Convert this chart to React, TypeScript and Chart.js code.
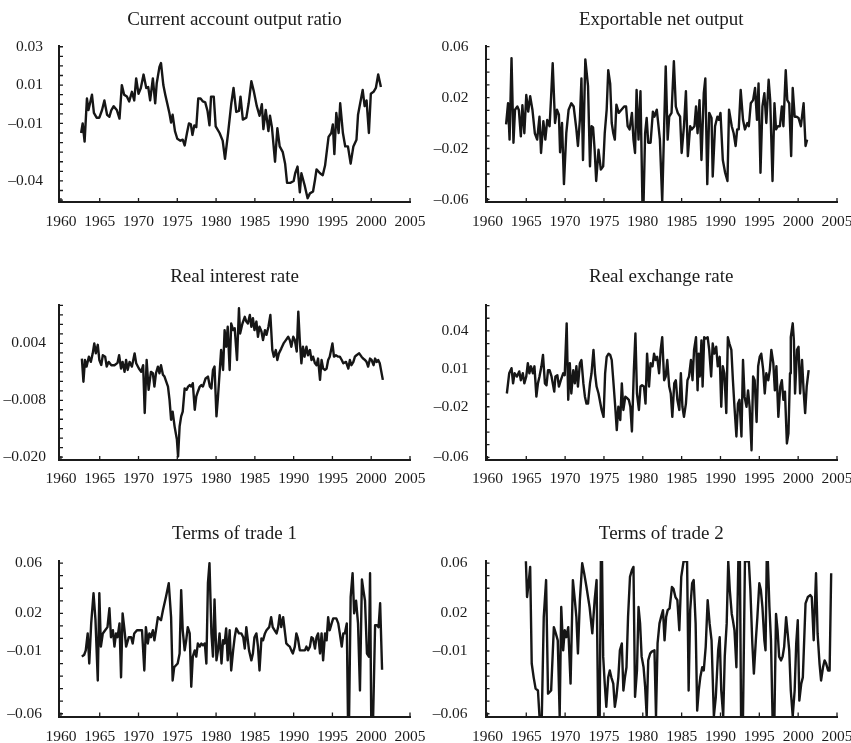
import React, { useEffect, useRef } from "react";
import { Chart, registerables } from "chart.js";

Chart.register(...registerables);

const FONT = '"Liberation Serif", "Times New Roman", Times, serif';
const INK = "#1b1b1b";
const LINE_INK = "#161616";

// x axis (years)
const xTickYears = [1960, 1965, 1970, 1975, 1980, 1985, 1990, 1995, 2000, 2005];

// ---- Current account output ratio ----
const caTicks = [0.03, 0.01, -0.01, -0.04];
const caTickLabels = ["0.03", "0.01", "–0.01", "–0.04"];
const currentAccount: [number, number][] = [
  [1962.6,-0.015],[1962.8,-0.010],[1963.05,-0.0195],[1963.35,0.003],[1963.55,-0.003],[1964.0,0.005],[1964.25,-0.0045],[1964.6,-0.007],[1964.95,-0.007],[1965.3,-0.003],[1965.6,0.002],[1965.95,-0.0055],[1966.25,-0.0065],[1966.5,-0.003],[1966.8,-0.001],[1967.2,-0.003],[1967.55,-0.0075],[1967.85,0.010],[1968.15,0.005],[1968.5,0.004],[1968.8,0.0015],[1969.15,0.0065],[1969.45,0.002],[1969.7,0.0135],[1970.0,0.0055],[1970.3,0.0085],[1970.65,0.0155],[1971.0,0.0085],[1971.25,0.009],[1971.5,0.002],[1971.85,0.0135],[1972.15,0.0005],[1972.35,0.011],[1972.7,0.0195],[1972.9,0.0215],[1973.2,0.010],[1973.45,0.005],[1973.7,0.0005],[1974.0,-0.005],[1974.2,-0.0095],[1974.4,-0.0055],[1974.7,-0.014],[1975.0,-0.018],[1975.4,-0.019],[1975.7,-0.0185],[1975.95,-0.0215],[1976.25,-0.015],[1976.5,-0.010],[1976.75,-0.0105],[1976.95,-0.016],[1977.2,-0.011],[1977.45,-0.012],[1977.7,0.003],[1978.0,0.003],[1978.3,0.0015],[1978.6,0.001],[1978.9,-0.0035],[1979.15,-0.011],[1979.35,0.004],[1979.7,0.004],[1979.95,-0.0115],[1980.45,-0.015],[1980.85,-0.019],[1981.15,-0.0285],[1981.55,-0.015],[1981.95,0.0],[1982.25,0.0085],[1982.6,-0.004],[1982.95,-0.0035],[1983.15,0.004],[1983.45,-0.008],[1983.9,-0.007],[1984.2,0.0005],[1984.55,0.012],[1984.85,0.007],[1985.25,-0.001],[1985.6,-0.006],[1985.9,0.0],[1986.1,-0.013],[1986.4,-0.003],[1986.75,-0.014],[1986.95,-0.006],[1987.2,-0.012],[1987.6,-0.030],[1987.9,-0.0125],[1988.2,-0.022],[1988.6,-0.025],[1988.9,-0.031],[1989.15,-0.041],[1989.6,-0.041],[1990.0,-0.040],[1990.2,-0.036],[1990.5,-0.0325],[1990.8,-0.046],[1991.0,-0.036],[1991.4,-0.042],[1991.8,-0.049],[1992.1,-0.0465],[1992.5,-0.0455],[1992.75,-0.0395],[1992.95,-0.034],[1993.4,-0.036],[1993.75,-0.037],[1994.05,-0.032],[1994.5,-0.017],[1994.85,-0.015],[1995.05,-0.0105],[1995.25,-0.026],[1995.5,-0.0045],[1995.8,-0.015],[1996.0,0.0005],[1996.35,-0.015],[1996.65,-0.022],[1997.0,-0.022],[1997.35,-0.031],[1997.7,-0.022],[1998.1,-0.0185],[1998.3,-0.0055],[1998.9,0.0075],[1999.15,-0.001],[1999.4,0.002],[1999.7,-0.015],[1999.95,0.0055],[2000.3,0.0065],[2000.6,0.0085],[2000.9,0.0155],[2001.25,0.009]
];

// ---- Exportable net output ----
const enoTicks = [0.06, 0.02, -0.02, -0.06];
const enoTickLabels = ["0.06", "0.02", "–0.02", "–0.06"];
const exportableNetOutput: [number, number][] = [
  [1962.4,-0.001],[1962.65,0.0155],[1962.85,-0.013],[1963.1,0.051],[1963.35,-0.0155],[1963.55,0.0105],[1963.85,0.013],[1964.05,0.010],[1964.3,-0.0105],[1964.5,0.014],[1964.75,-0.008],[1965.0,0.022],[1965.25,0.009],[1965.5,0.021],[1965.8,0.010],[1966.1,-0.008],[1966.4,-0.013],[1966.7,0.005],[1966.9,-0.0235],[1967.2,0.0015],[1967.45,-0.013],[1967.7,0.0025],[1968.0,-0.0025],[1968.2,0.021],[1968.4,0.047],[1968.7,0.0],[1968.95,0.0105],[1969.2,0.0065],[1969.35,-0.023],[1969.6,0.0],[1969.85,-0.048],[1970.15,-0.008],[1970.45,0.0105],[1970.8,0.0155],[1971.1,0.013],[1971.45,-0.005],[1971.65,-0.018],[1971.9,0.0025],[1972.1,0.035],[1972.3,-0.029],[1972.6,0.050],[1972.95,0.029],[1973.2,-0.034],[1973.4,-0.0025],[1973.6,-0.0035],[1973.8,-0.021],[1974.0,-0.0455],[1974.3,-0.021],[1974.6,-0.0365],[1974.9,-0.034],[1975.1,-0.008],[1975.35,0.0105],[1975.55,0.0415],[1975.8,0.031],[1976.0,0.0],[1976.2,-0.008],[1976.4,-0.013],[1976.6,0.0145],[1976.9,0.008],[1977.25,0.0105],[1977.6,0.013],[1977.85,0.013],[1978.05,-0.0025],[1978.3,-0.005],[1978.6,0.008],[1978.8,-0.013],[1979.0,-0.0235],[1979.2,0.026],[1979.45,-0.013],[1979.7,0.025],[1979.95,-0.062],[1980.1,-0.062],[1980.3,-0.008],[1980.5,0.004],[1980.7,-0.0155],[1981.0,-0.0155],[1981.3,0.009],[1981.5,0.005],[1981.8,0.0105],[1982.0,-0.001],[1982.2,-0.013],[1982.5,-0.062],[1982.75,-0.0025],[1982.95,0.0445],[1983.2,-0.013],[1983.4,0.005],[1983.7,0.008],[1984.0,0.0485],[1984.25,0.013],[1984.5,0.008],[1984.8,0.005],[1985.0,-0.0235],[1985.3,-0.0025],[1985.55,0.025],[1985.8,-0.026],[1986.1,-0.0025],[1986.3,-0.005],[1986.65,-0.0025],[1986.85,0.013],[1987.05,-0.008],[1987.3,0.018],[1987.55,-0.029],[1987.85,0.0235],[1988.05,0.035],[1988.3,-0.048],[1988.55,0.008],[1988.85,0.004],[1989.0,-0.042],[1989.3,-0.0025],[1989.6,0.005],[1989.8,0.0025],[1990.0,0.008],[1990.3,-0.029],[1990.6,-0.039],[1990.9,-0.0455],[1991.1,0.0105],[1991.45,-0.0025],[1991.7,-0.008],[1991.95,-0.018],[1992.15,-0.005],[1992.35,-0.005],[1992.6,0.026],[1992.9,0.0025],[1993.15,-0.005],[1993.45,0.0],[1993.65,-0.0025],[1993.9,0.0155],[1994.2,0.018],[1994.45,0.0275],[1994.7,0.0025],[1994.9,0.031],[1995.15,-0.039],[1995.4,0.013],[1995.65,0.0235],[1995.9,0.0],[1996.2,0.034],[1996.4,0.018],[1996.7,-0.0455],[1996.95,0.0155],[1997.15,-0.005],[1997.4,-0.0025],[1997.65,-0.0025],[1997.9,0.013],[1998.1,-0.0025],[1998.4,0.0415],[1998.6,0.018],[1998.85,0.0155],[1999.1,-0.026],[1999.3,0.0275],[1999.55,0.005],[1999.8,0.005],[2000.05,0.004],[2000.35,-0.0025],[2000.7,0.0155],[2000.95,-0.018],[2001.15,-0.013]
];

// ---- Real interest rate ----
const rirTicks = [0.004, -0.008, -0.02];
const rirTickLabels = ["0.004", "–0.008", "–0.020"];
const realInterestRate: [number, number][] = [
  [1962.7,0.0008],[1962.9,-0.0041],[1963.1,0.0005],[1963.3,-0.0009],[1963.6,0.0012],[1963.85,0.0001],[1964.1,0.0019],[1964.3,0.0040],[1964.5,0.0019],[1964.75,0.0037],[1964.95,0.0005],[1965.2,-0.00055],[1965.4,0.0015],[1965.7,0.0012],[1965.9,-0.0009],[1966.15,0.0001],[1966.5,-0.0006],[1966.9,-0.0006],[1967.3,-0.0001],[1967.5,0.0015],[1967.75,-0.0013],[1967.95,0.0001],[1968.2,-0.0020],[1968.4,0.0005],[1968.6,-0.0016],[1968.85,0.0001],[1969.15,-0.0009],[1969.5,0.0019],[1969.7,-0.0002],[1970.05,-0.0013],[1970.35,-0.0020],[1970.6,-0.0006],[1970.8,-0.0107],[1971.05,0.0005],[1971.3,-0.0058],[1971.6,-0.0020],[1971.85,-0.0023],[1972.05,-0.0051],[1972.25,-0.0023],[1972.5,-0.0009],[1972.7,-0.0023],[1972.9,-0.0006],[1973.15,-0.0026],[1973.35,-0.0030],[1973.8,-0.0051],[1974.0,-0.0079],[1974.2,-0.0121],[1974.4,-0.0104],[1974.65,-0.0135],[1974.95,-0.0163],[1975.1,-0.01985],[1975.3,-0.0135],[1975.5,-0.0114],[1975.7,-0.0104],[1975.95,-0.0055],[1976.2,-0.0058],[1976.4,-0.0051],[1976.6,-0.0048],[1976.8,-0.0051],[1977.0,-0.0044],[1977.25,-0.0100],[1977.45,-0.0072],[1977.65,-0.0062],[1977.9,-0.0051],[1978.1,-0.0048],[1978.3,-0.0051],[1978.65,-0.0034],[1978.95,-0.0030],[1979.2,-0.0051],[1979.4,-0.0055],[1979.6,-0.0016],[1979.8,-0.0009],[1980.05,-0.0114],[1980.25,-0.0072],[1980.45,-0.0023],[1980.65,0.0026],[1980.9,-0.0016],[1981.1,0.0068],[1981.3,0.0033],[1981.5,0.0075],[1981.75,-0.0016],[1981.95,0.0082],[1982.2,0.0068],[1982.4,0.0072],[1982.7,0.0005],[1982.95,0.0114],[1983.1,0.0061],[1983.4,0.0082],[1983.7,0.0096],[1983.9,0.0086],[1984.1,0.0082],[1984.35,0.0100],[1984.55,0.0075],[1984.75,0.0093],[1984.95,0.0068],[1985.2,0.0086],[1985.4,0.0054],[1985.6,0.0075],[1985.85,0.0065],[1986.05,0.0047],[1986.3,0.0068],[1986.5,0.0058],[1986.75,0.0075],[1987.0,0.0100],[1987.25,0.0026],[1987.45,0.0012],[1987.7,0.0026],[1987.9,0.0005],[1988.1,0.0019],[1988.4,0.0029],[1988.7,0.0040],[1989.0,0.0047],[1989.3,0.0054],[1989.5,0.0047],[1989.7,0.0033],[1989.95,0.0054],[1990.15,0.0047],[1990.4,0.0023],[1990.6,0.0107],[1990.8,0.0044],[1991.0,-0.0002],[1991.2,0.0033],[1991.4,0.0012],[1991.65,0.0033],[1991.85,0.0015],[1992.1,0.0026],[1992.3,0.0005],[1992.5,0.0012],[1992.75,-0.0002],[1992.95,-0.0006],[1993.15,0.0008],[1993.4,-0.0037],[1993.6,0.0005],[1993.8,-0.0013],[1994.05,-0.0016],[1994.25,-0.0013],[1994.45,0.0005],[1994.65,0.0012],[1995.0,0.0040],[1995.2,0.0012],[1995.45,0.0015],[1995.75,0.0012],[1995.95,0.0012],[1996.2,0.0005],[1996.4,-0.0002],[1996.75,0.0001],[1997.05,-0.0013],[1997.25,0.0005],[1997.45,-0.0006],[1997.7,0.0001],[1997.9,0.0012],[1998.1,0.0015],[1998.45,0.0019],[1998.75,0.0012],[1998.95,0.0008],[1999.2,0.0005],[1999.4,0.0001],[1999.6,-0.0009],[1999.85,0.0008],[2000.05,0.0005],[2000.3,-0.0006],[2000.5,0.0008],[2000.7,0.0001],[2000.9,0.0005],[2001.1,-0.0002],[2001.5,-0.0037]
];

// ---- Real exchange rate ----
const rerTicks = [0.04, 0.01, -0.02, -0.06];
const rerTickLabels = ["0.04", "0.01", "–0.02", "–0.06"];
const realExchangeRate: [number, number][] = [
  [1962.5,-0.0095],[1962.8,0.0065],[1963.1,0.0105],[1963.3,-0.0015],[1963.5,0.0065],[1963.8,0.004],[1964.1,0.008],[1964.3,0.001],[1964.55,0.0065],[1964.75,-0.0015],[1965.0,0.004],[1965.2,0.0145],[1965.4,0.0065],[1965.6,0.012],[1965.85,0.0065],[1966.05,0.012],[1966.3,-0.012],[1966.5,-0.0015],[1966.7,0.004],[1966.95,0.012],[1967.15,0.021],[1967.4,-0.0015],[1967.6,-0.003],[1967.8,0.009],[1968.0,0.009],[1968.25,0.004],[1968.6,-0.008],[1968.75,0.004],[1969.0,0.005],[1969.2,-0.004],[1969.45,0.001],[1969.75,0.0065],[1969.95,0.005],[1970.2,0.046],[1970.4,-0.0145],[1970.6,0.0145],[1970.8,-0.0095],[1971.05,0.009],[1971.25,-0.0015],[1971.45,0.012],[1971.65,-0.004],[1971.9,0.0145],[1972.1,0.017],[1972.35,-0.0015],[1972.55,-0.012],[1972.75,-0.0175],[1972.95,-0.0175],[1973.2,-0.0015],[1973.4,0.0065],[1973.65,0.025],[1973.85,0.0065],[1974.05,-0.004],[1974.3,-0.0095],[1974.7,-0.0225],[1974.95,-0.028],[1975.15,0.0065],[1975.35,0.0195],[1975.6,0.022],[1975.8,0.021],[1976.0,0.017],[1976.2,0.001],[1976.45,-0.020],[1976.65,-0.0385],[1976.85,-0.020],[1977.1,-0.0305],[1977.3,-0.0015],[1977.5,-0.0225],[1977.75,-0.012],[1977.95,-0.013],[1978.2,-0.0145],[1978.4,-0.020],[1978.6,-0.0395],[1978.85,0.009],[1979.05,0.038],[1979.25,-0.0095],[1979.5,-0.0225],[1979.7,-0.004],[1979.9,-0.003],[1980.15,-0.004],[1980.35,-0.0175],[1980.55,0.022],[1980.8,-0.004],[1981.0,0.0145],[1981.25,0.012],[1981.45,0.022],[1981.65,0.017],[1981.85,0.0195],[1982.1,0.0065],[1982.3,0.025],[1982.5,0.035],[1982.75,0.001],[1982.95,0.004],[1983.15,0.017],[1983.4,-0.004],[1983.6,-0.0095],[1983.8,-0.028],[1984.05,-0.0015],[1984.25,0.001],[1984.45,-0.0145],[1984.7,-0.0225],[1984.9,0.0065],[1985.1,-0.020],[1985.3,-0.028],[1985.55,-0.0175],[1985.75,0.001],[1985.95,0.004],[1986.2,0.017],[1986.4,0.001],[1986.6,0.025],[1986.85,0.035],[1987.05,-0.007],[1987.2,0.022],[1987.35,0.004],[1987.55,0.0325],[1987.7,-0.004],[1987.9,0.035],[1988.1,0.034],[1988.35,0.035],[1988.55,0.025],[1988.8,0.004],[1989.0,0.030],[1989.2,0.022],[1989.45,0.0275],[1989.65,0.012],[1989.9,0.0195],[1990.1,-0.020],[1990.3,0.012],[1990.5,0.0065],[1990.75,-0.025],[1990.95,0.035],[1991.15,0.030],[1991.4,0.025],[1991.6,0.001],[1991.8,-0.020],[1992.05,-0.0435],[1992.25,-0.0175],[1992.45,-0.0145],[1992.7,-0.0435],[1992.9,0.017],[1993.1,-0.012],[1993.35,-0.020],[1993.55,-0.007],[1993.75,-0.020],[1994.0,-0.0545],[1994.2,0.004],[1994.4,0.001],[1994.65,-0.032],[1994.85,0.012],[1995.05,0.0195],[1995.25,0.022],[1995.5,0.009],[1995.7,-0.0095],[1995.9,0.0065],[1996.15,0.001],[1996.35,0.009],[1996.55,0.025],[1996.8,0.0145],[1997.0,-0.007],[1997.2,0.012],[1997.45,-0.028],[1997.7,-0.004],[1997.9,0.001],[1998.1,-0.0145],[1998.3,-0.008],[1998.55,-0.049],[1998.75,-0.041],[1998.95,0.0065],[1999.05,0.035],[1999.3,0.046],[1999.45,0.0325],[1999.6,-0.0095],[1999.85,0.025],[2000.05,0.0275],[2000.25,-0.0095],[2000.5,0.017],[2000.7,-0.007],[2000.9,-0.025],[2001.1,-0.004],[2001.35,0.009]
];

// ---- Terms of trade 1 ----
const tot1Ticks = [0.06, 0.02, -0.01, -0.06];
const tot1TickLabels = ["0.06", "0.02", "–0.01", "–0.06"];
const termsOfTrade1: [number, number][] = [
  [1962.7,-0.0145],[1963.0,-0.013],[1963.2,-0.0095],[1963.45,0.004],[1963.65,-0.020],[1963.9,0.012],[1964.2,0.036],[1964.45,0.015],[1964.75,-0.0335],[1964.95,0.036],[1965.15,-0.0065],[1965.4,0.004],[1965.7,0.0065],[1966.0,0.009],[1966.25,0.024],[1966.45,0.001],[1966.7,0.0065],[1966.9,-0.0065],[1967.1,0.004],[1967.3,0.001],[1967.55,0.012],[1967.75,-0.031],[1967.95,0.020],[1968.2,0.0065],[1968.4,-0.0065],[1968.75,0.001],[1969.05,0.001],[1969.25,-0.004],[1969.45,0.004],[1969.8,0.0065],[1970.15,0.0065],[1970.45,0.0065],[1970.75,-0.0255],[1970.95,0.009],[1971.2,-0.004],[1971.4,0.004],[1971.6,0.001],[1971.85,0.0065],[1972.05,-0.0015],[1972.25,0.0065],[1972.5,0.017],[1972.9,0.0145],[1973.15,0.0225],[1973.55,0.0335],[1973.9,0.044],[1974.2,0.017],[1974.4,-0.0335],[1974.6,-0.023],[1975.05,-0.020],[1975.3,-0.012],[1975.5,0.0385],[1975.7,0.0065],[1975.95,-0.0095],[1976.15,-0.0015],[1976.35,0.009],[1976.6,0.004],[1976.8,-0.0385],[1977.0,-0.0145],[1977.25,-0.0095],[1977.45,-0.0145],[1977.65,-0.004],[1977.9,-0.0065],[1978.1,-0.004],[1978.3,-0.0055],[1978.55,-0.004],[1978.75,-0.020],[1978.95,0.044],[1979.15,0.060],[1979.4,0.004],[1979.6,-0.0145],[1979.8,0.031],[1980.05,-0.0175],[1980.25,-0.0095],[1980.45,0.004],[1980.7,-0.020],[1980.9,-0.0015],[1981.1,-0.004],[1981.3,0.008],[1981.5,-0.0175],[1981.75,0.0065],[1981.95,-0.0255],[1982.2,-0.0095],[1982.4,0.001],[1982.6,0.008],[1982.95,0.004],[1983.25,0.004],[1983.5,0.001],[1983.7,-0.008],[1983.9,0.009],[1984.25,-0.0095],[1984.55,-0.0175],[1984.75,-0.012],[1984.95,0.001],[1985.2,0.004],[1985.4,-0.0065],[1985.6,-0.0255],[1985.85,0.0],[1986.05,-0.0015],[1986.3,0.004],[1986.5,0.0065],[1986.85,0.009],[1987.1,0.017],[1987.3,0.009],[1987.55,0.0065],[1987.8,0.004],[1988.0,0.009],[1988.2,0.0185],[1988.4,0.009],[1988.65,0.017],[1988.85,0.0065],[1989.05,-0.004],[1989.3,-0.0055],[1989.5,-0.0065],[1989.7,-0.0095],[1989.9,-0.012],[1990.15,-0.0065],[1990.35,0.004],[1990.55,0.0],[1990.8,-0.0095],[1991.0,-0.0095],[1991.45,-0.0095],[1991.65,-0.0065],[1991.85,-0.0095],[1992.1,-0.0065],[1992.3,0.001],[1992.5,0.0],[1992.75,-0.008],[1992.95,0.001],[1993.15,0.004],[1993.4,-0.012],[1993.6,0.004],[1993.8,-0.0175],[1994.05,0.004],[1994.25,-0.0015],[1994.45,0.017],[1994.65,0.0065],[1994.9,0.012],[1995.1,0.016],[1995.5,0.016],[1995.75,0.012],[1995.95,0.004],[1996.2,-0.0065],[1996.4,0.004],[1996.6,0.004],[1996.85,0.012],[1997.0,-0.062],[1997.15,-0.062],[1997.35,0.033],[1997.6,0.052],[1997.8,0.020],[1998.05,0.030],[1998.3,0.012],[1998.55,-0.0415],[1998.8,0.047],[1999.0,0.038],[1999.2,0.030],[1999.45,-0.012],[1999.7,-0.0145],[1999.85,0.052],[2000.0,-0.062],[2000.25,-0.062],[2000.5,0.0105],[2000.75,0.0105],[2000.95,0.009],[2001.15,0.028],[2001.4,-0.025]
];

// ---- Terms of trade 2 ----
const tot2Ticks = [0.06, 0.02, -0.01, -0.06];
const tot2TickLabels = ["0.06", "0.02", "–0.01", "–0.06"];
const termsOfTrade2: [number, number][] = [
  [1964.95,0.0615],[1965.1,0.033],[1965.3,0.044],[1965.5,0.057],[1965.7,-0.020],[1965.95,-0.031],[1966.2,-0.040],[1966.5,-0.0415],[1966.7,-0.062],[1967.0,-0.062],[1967.25,0.017],[1967.55,0.0465],[1967.8,-0.044],[1968.2,-0.0415],[1968.55,0.009],[1968.8,0.004],[1969.05,-0.0015],[1969.3,-0.062],[1969.5,0.025],[1969.75,-0.0095],[1969.95,0.0065],[1970.15,0.001],[1970.4,0.009],[1970.7,-0.036],[1971.0,0.0465],[1971.25,0.0305],[1971.45,0.017],[1971.65,-0.012],[1971.9,0.0305],[1972.2,0.060],[1972.45,0.052],[1972.75,0.041],[1973.15,0.025],[1973.5,0.004],[1973.8,0.0305],[1974.05,0.0465],[1974.25,-0.062],[1974.45,-0.062],[1974.6,0.0615],[1974.75,0.0615],[1974.9,-0.0145],[1975.1,-0.036],[1975.3,-0.0545],[1975.55,-0.031],[1975.75,-0.0255],[1975.95,-0.031],[1976.2,-0.036],[1976.4,-0.0545],[1976.6,-0.0465],[1976.85,-0.031],[1977.05,-0.0095],[1977.3,-0.004],[1977.5,-0.0415],[1977.7,-0.031],[1977.9,-0.023],[1978.1,0.017],[1978.35,0.049],[1978.6,0.0545],[1978.8,0.057],[1979.0,-0.0465],[1979.25,-0.0255],[1979.45,0.025],[1979.65,0.012],[1979.85,-0.0145],[1980.1,-0.023],[1980.3,-0.0385],[1980.5,-0.062],[1980.7,-0.0175],[1980.95,-0.012],[1981.15,-0.0105],[1981.5,-0.0095],[1981.7,-0.062],[1981.9,-0.004],[1982.15,0.012],[1982.35,0.017],[1982.6,0.0225],[1982.8,-0.0015],[1983.0,0.017],[1983.2,0.0225],[1983.45,0.024],[1983.75,0.041],[1983.95,0.0395],[1984.2,0.033],[1984.45,0.0305],[1984.7,0.0065],[1984.95,0.049],[1985.25,0.0615],[1985.7,0.0615],[1985.9,-0.0415],[1986.1,0.0225],[1986.35,0.044],[1986.55,0.0465],[1986.8,0.012],[1987.0,-0.0575],[1987.2,-0.0415],[1987.4,-0.031],[1987.65,-0.023],[1987.85,-0.0255],[1988.1,-0.0065],[1988.35,0.0305],[1988.6,0.012],[1988.85,-0.0015],[1989.15,-0.062],[1989.4,-0.0465],[1989.7,-0.0095],[1989.9,0.001],[1990.1,-0.0415],[1990.35,-0.062],[1990.55,-0.0145],[1990.8,0.012],[1991.0,0.0615],[1991.2,0.0385],[1991.45,0.0195],[1991.6,0.0145],[1991.8,0.0065],[1992.05,-0.023],[1992.3,0.0615],[1992.5,0.0615],[1992.65,-0.062],[1992.9,-0.062],[1993.15,0.0615],[1993.65,0.0615],[1993.85,0.0385],[1994.1,-0.004],[1994.3,-0.028],[1994.55,-0.0015],[1994.75,0.017],[1995.0,0.044],[1995.2,0.0385],[1995.4,0.025],[1995.65,-0.0015],[1995.8,-0.0095],[1995.95,0.0615],[1996.1,0.0615],[1996.3,0.025],[1996.5,-0.0015],[1996.7,-0.062],[1996.95,-0.062],[1997.15,0.0195],[1997.35,0.0065],[1997.55,-0.0145],[1997.8,-0.0175],[1998.0,-0.0145],[1998.2,-0.0065],[1998.45,0.017],[1998.65,0.004],[1998.85,-0.0095],[1999.05,-0.0415],[1999.3,-0.062],[1999.55,-0.0415],[1999.75,-0.004],[1999.95,0.0145],[2000.15,-0.0495],[2000.4,-0.036],[2000.6,-0.031],[2000.95,0.028],[2001.25,0.033],[2001.55,0.0345],[2001.75,0.033],[2002.0,-0.0015],[2002.3,0.052],[2002.5,0.004],[2002.75,-0.020],[2002.95,-0.0335],[2003.2,-0.023],[2003.4,-0.0175],[2003.6,-0.020],[2003.85,-0.0255],[2004.05,-0.0255],[2004.25,0.052]
];

// ---- layout (pixel geometry of the 3 x 2 grid) ----
const COLS = [
  { canvasLeft: 0, chartLeft: 59, chartRight: 410 },
  { canvasLeft: 425, chartLeft: 485.5, chartRight: 837 },
];
const ROWS = [
  { canvasTop: 0, chartTop: 46, chartBottom: 202, titleMid: 20.5, xLabelMid: 221.7 },
  { canvasTop: 240, chartTop: 305, chartBottom: 460, titleMid: 277, xLabelMid: 479.3 },
  { canvasTop: 490, chartTop: 561, chartBottom: 716.5, titleMid: 533.7, xLabelMid: 736.7 },
];

const TICK_FONT_SIZE = 15.5;
const TITLE_FONT_SIZE = 19;

type PanelSpec = {
  title: string;
  data: [number, number][];
  yMin: number;
  yMax: number;
  ticks: number[];
  labels: string[];
  minor: number;
  labelGap: number;
  col: number;
  row: number;
};

const PANELS: PanelSpec[] = [
  { title: "Current account output ratio", data: currentAccount, yMin: -0.051, yMax: 0.0304, ticks: caTicks, labels: caTickLabels, minor: 0.005, labelGap: 16, col: 0, row: 0 },
  { title: "Exportable net output", data: exportableNetOutput, yMin: -0.062, yMax: 0.0605, ticks: enoTicks, labels: enoTickLabels, minor: 0.01, labelGap: 17, col: 1, row: 0 },
  { title: "Real interest rate", data: realInterestRate, yMin: -0.0206, yMax: 0.0121, ticks: rirTicks, labels: rirTickLabels, minor: 0.002, labelGap: 13, col: 0, row: 1 },
  { title: "Real exchange rate", data: realExchangeRate, yMin: -0.0621, yMax: 0.0605, ticks: rerTicks, labels: rerTickLabels, minor: 0.01, labelGap: 17, col: 1, row: 1 },
  { title: "Terms of trade 1", data: termsOfTrade1, yMin: -0.0622, yMax: 0.0617, ticks: tot1Ticks, labels: tot1TickLabels, minor: 0.01, labelGap: 17, col: 0, row: 2 },
  { title: "Terms of trade 2", data: termsOfTrade2, yMin: -0.0622, yMax: 0.0617, ticks: tot2Ticks, labels: tot2TickLabels, minor: 0.01, labelGap: 18, col: 1, row: 2 },
];

// small inward tick marks on both axes
const inwardTicks = {
  id: "inwardTicks",
  afterDraw(chart: any, _args: any, opts: any) {
    const { ctx, chartArea, scales } = chart;
    const xs = scales.x;
    const ys = scales.y;
    const step = opts.step;
    ctx.save();
    ctx.strokeStyle = INK;
    ctx.lineWidth = 1.3;
    ctx.beginPath();
    const k0 = Math.ceil(ys.min / step - 1e-9);
    const k1 = Math.floor(ys.max / step + 1e-9);
    for (let k = k0; k <= k1; k++) {
      const py = ys.getPixelForValue(k * step);
      ctx.moveTo(chartArea.left, py);
      ctx.lineTo(chartArea.left + 4, py);
    }
    for (const yr of xTickYears) {
      const px = xs.getPixelForValue(yr);
      ctx.moveTo(px, chartArea.bottom);
      ctx.lineTo(px, chartArea.bottom - 4);
    }
    ctx.stroke();
    ctx.restore();
  },
};

function Panel({ p }: { p: PanelSpec }) {
  const ref = useRef<HTMLCanvasElement>(null);
  const col = COLS[p.col];
  const row = ROWS[p.row];
  const width = Math.ceil(col.chartRight + 28 - col.canvasLeft);
  const height = Math.ceil(row.chartBottom - row.canvasTop + 30);
  const padRight = width - (col.chartRight - col.canvasLeft);
  const xHeight = height - (row.chartBottom - row.canvasTop);
  const titleLine = TITLE_FONT_SIZE * 1.2;
  const titlePadTop = row.titleMid - row.canvasTop - titleLine / 2;
  const titlePadBottom = row.chartTop - row.canvasTop - titlePadTop - titleLine;

  useEffect(() => {
    if (!ref.current) return;
    const chart = new Chart(ref.current, {
      type: "line",
      data: {
        datasets: [
          {
            data: p.data.map(([x, y]) => ({ x, y })),
            borderColor: LINE_INK,
            borderWidth: 2.4,
            borderJoinStyle: "round",
            pointRadius: 0,
            tension: 0,
            fill: false,
          },
        ],
      },
      options: {
        responsive: false,
        animation: false,
        devicePixelRatio: 1,
        events: [],
        layout: { padding: { left: 0, right: padRight, top: 0, bottom: 0 } },
        plugins: {
          legend: { display: false },
          tooltip: { enabled: false },
          title: {
            display: true,
            text: p.title,
            fullSize: false,
            color: INK,
            font: { family: FONT, size: TITLE_FONT_SIZE, weight: "normal", lineHeight: 1.2 },
            padding: { top: titlePadTop, bottom: titlePadBottom },
          },
          inwardTicks: { step: p.minor },
        } as any,
        scales: {
          x: {
            type: "linear",
            min: 1959.75,
            max: 2005,
            afterBuildTicks: (s: any) => {
              s.ticks = xTickYears.map((value) => ({ value }));
            },
            afterFit: (s: any) => {
              s.height = xHeight;
            },
            ticks: {
              callback: (v: any) => String(v),
              color: INK,
              font: { family: FONT, size: TICK_FONT_SIZE, lineHeight: 1.2 },
              padding: row.xLabelMid - row.chartBottom - (TICK_FONT_SIZE * 1.2) / 2,
              maxRotation: 0,
              minRotation: 0,
              autoSkip: false,
            },
            grid: { display: true, drawOnChartArea: false, drawTicks: false },
            border: { display: true, color: INK, width: 2 },
          },
          y: {
            type: "linear",
            min: p.yMin,
            max: p.yMax,
            afterBuildTicks: (s: any) => {
              s.ticks = p.ticks.map((value) => ({ value }));
            },
            afterFit: (s: any) => {
              s.width = col.chartLeft - col.canvasLeft;
            },
            ticks: {
              callback: (_v: any, i: number) => p.labels[i],
              color: INK,
              font: { family: FONT, size: TICK_FONT_SIZE, lineHeight: 1.2 },
              padding: p.labelGap,
              autoSkip: false,
            },
            grid: { display: true, drawOnChartArea: false, drawTicks: false },
            border: { display: true, color: INK, width: 2 },
          },
        },
      } as any,
      plugins: [inwardTicks as any],
    });
    return () => chart.destroy();
  }, []);

  return (
    <canvas
      ref={ref}
      width={width}
      height={height}
      style={{ position: "absolute", left: col.canvasLeft, top: row.canvasTop, width, height }}
    />
  );
}

export default function App() {
  return (
    <div
      style={{
        position: "absolute",
        left: 0,
        top: 0,
        width: 851,
        height: 743,
        overflow: "hidden",
        background: "#ffffff",
      }}
    >
      {PANELS.map((p, i) => (
        <Panel key={i} p={p} />
      ))}
    </div>
  );
}
